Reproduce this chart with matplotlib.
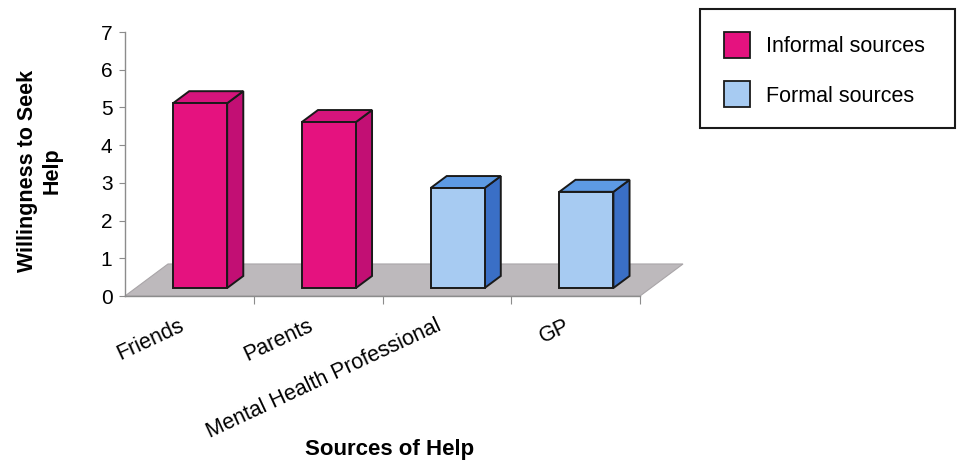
import matplotlib.pyplot as plt
from matplotlib.patches import Polygon, Rectangle

plt.rcParams['font.family'] = ['Liberation Sans', 'DejaVu Sans']

# Mean willingness to seek help, by source
sources = ['Friends', 'Parents', 'Mental Health Professional', 'GP']
willingness = [4.9, 4.4, 2.65, 2.55]
source_type = ['Informal sources', 'Informal sources', 'Formal sources', 'Formal sources']
legend_labels = ['Informal sources', 'Formal sources']

# front, top, side shades for each group
shades = {
    'Informal sources': ('#E5127F', '#D6147C', '#C20F74'),
    'Formal sources': ('#A7CBF2', '#5D9AE4', '#3A6FC6'),
}

# oblique projection of the floor depth, in data units
DX, DY = 0.334, 0.849
D0, D1 = 0.25, 0.625   # bar depth span (fraction of floor depth)
BAR_W = 0.42


def proj(x, y, d):
    return (x + d * DX, y + d * DY)


fig = plt.figure(figsize=(9.59, 4.61), dpi=100)
ax = fig.add_axes([125 / 959, 1 - 296 / 461, 515 / 959, 264 / 461])
ax.set_xlim(0, len(sources))
ax.set_ylim(0, 7)

# grey floor
n = len(sources)
floor = Polygon([proj(0, 0, 0), proj(n, 0, 0), proj(n, 0, 1), proj(0, 0, 1)],
                closed=True, facecolor='#BDB9BC', edgecolor='#A9A5A8',
                lw=0.8, clip_on=False, zorder=1)
ax.add_patch(floor)

edge = dict(edgecolor='#1a1a1a', lw=1.4, joinstyle='miter', clip_on=False, zorder=3)
for i, (v, grp) in enumerate(zip(willingness, source_type)):
    front_c, top_c, side_c = shades[grp]
    xl = i + 0.5 - BAR_W / 2
    xr = i + 0.5 + BAR_W / 2
    front = [proj(xl, 0, D0), proj(xr, 0, D0), proj(xr, v, D0), proj(xl, v, D0)]
    top = [proj(xl, v, D0), proj(xr, v, D0), proj(xr, v, D1), proj(xl, v, D1)]
    side = [proj(xr, 0, D0), proj(xr, 0, D1), proj(xr, v, D1), proj(xr, v, D0)]
    ax.add_patch(Polygon(side, closed=True, facecolor=side_c, **edge))
    ax.add_patch(Polygon(top, closed=True, facecolor=top_c, **edge))
    ax.add_patch(Polygon(front, closed=True, facecolor=front_c, **edge))

# axes styling
for s in ['top', 'right']:
    ax.spines[s].set_visible(False)
for s in ['left', 'bottom']:
    ax.spines[s].set_color('#8c8c8c')
    ax.spines[s].set_linewidth(1.0)
    ax.spines[s].set_zorder(2)

ax.set_yticks(range(8))
ax.tick_params(axis='y', length=4, color='#8c8c8c', labelsize=15, pad=5)
ax.set_xticks(range(1, n + 1))
ax.set_xticklabels([])
ax.tick_params(axis='x', length=6, color='#8c8c8c')

for i, name in enumerate(sources):
    ax.annotate(name, xy=(i + 0.5, 0), xycoords=('data', 'axes fraction'),
                xytext=(-8, -14), textcoords='offset points',
                rotation=25, rotation_mode='anchor', ha='right', va='top',
                fontsize=15.5)

fig.text(40 / 959, 1 - 171 / 461, 'Willingness to Seek\nHelp', rotation=90,
         ha='center', va='center', multialignment='center',
         fontsize=15.5, fontweight='bold')
fig.text(390 / 959, 1 - 449 / 461, 'Sources of Help', ha='center', va='center',
         fontsize=16, fontweight='bold')

# legend box
W, H = 959, 461
fig.add_artist(Rectangle((700 / W, 1 - 128 / H), 255 / W, 119 / H,
                         transform=fig.transFigure, facecolor='white',
                         edgecolor='#1a1a1a', lw=1.5))
for k, (lab, yc) in enumerate(zip(legend_labels, [45, 94])):
    fig.add_artist(Rectangle((724 / W, 1 - (yc + 13) / H), 26 / W, 26 / H,
                             transform=fig.transFigure,
                             facecolor=shades[lab][0], edgecolor='#1a1a1a', lw=1.3))
    fig.text(766 / W, 1 - (yc + 2) / H, lab, ha='left', va='center', fontsize=15.5)

fig.savefig('out.png', dpi=100)
